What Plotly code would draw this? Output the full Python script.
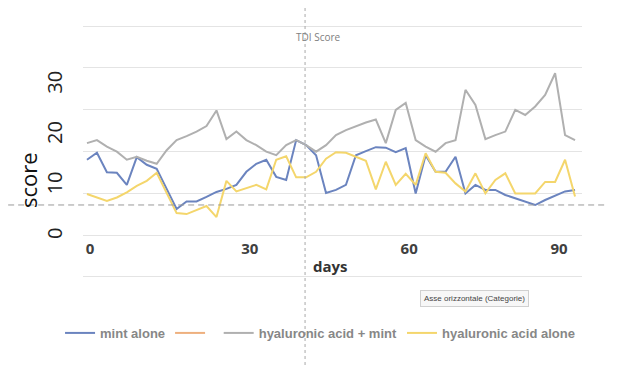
import plotly.graph_objects as go

# measurement days (every 2 days)
days = [2 * i for i in range(50)]

mint_alone = [15.2, 16.6, 12.7, 12.6, 10.2, 15.7, 14.2, 13.4, 9.4, 5.4,
              6.9, 6.9, 7.8, 8.8, 9.4, 10.2, 12.8, 14.4, 15.2, 11.8,
              11.2, 19.1, 18.1, 16.1, 8.6, 9.2, 10.2, 16.1, 16.9, 17.7,
              17.6, 16.7, 17.5, 8.5, 16.1, 12.8, 12.8, 15.8, 8.5, 10.2,
              9.2, 9.2, 8.2, 7.5, 6.9, 6.2, 7.2, 8.1, 8.9, 9.2]

ha_plus_mint = [18.5, 19.1, 17.8, 16.8, 15.2, 15.8, 15.0, 14.4, 17.1, 19.1,
                19.9, 20.8, 21.9, 25.0, 19.3, 20.8, 19.1, 18.1, 16.8, 16.1,
                18.1, 19.1, 18.1, 16.8, 18.1, 20.1, 21.1, 21.9, 22.6, 23.2,
                18.5, 25.1, 26.5, 19.1, 17.8, 16.8, 18.5, 19.1, 29.1, 26.1,
                19.3, 20.1, 20.8, 25.1, 24.1, 25.8, 28.1, 32.4, 20.1, 19.1]

ha_alone = [8.4, 7.7, 7.0, 7.7, 8.7, 10.0, 11.0, 12.6, 8.5, 4.6,
            4.4, 5.2, 6.0, 3.8, 11.0, 8.9, 9.5, 10.2, 9.3, 15.2,
            15.9, 11.7, 11.7, 12.8, 15.4, 16.7, 16.6, 15.8, 15.0, 9.3,
            14.8, 10.2, 12.4, 10.2, 16.5, 12.8, 12.6, 10.5, 8.9, 12.5,
            8.5, 11.2, 12.5, 8.5, 8.5, 8.5, 10.8, 10.8, 15.2, 7.9]

unnamed_series = [None]  # orange legend entry without visible data

x_tick_pos = [0.6, 32.7, 64.7, 94.8]
x_tick_text = ["0", "30", "60", "90"]
y_tick_vals = [0, 10, 20, 30]
y_tick_text = ["0", "10", "20", "30"]

fig = go.Figure()
fig.add_trace(go.Scatter(x=days, y=mint_alone, mode="lines", name="mint alone",
                         line=dict(color="#6b84bf", width=2)))
fig.add_trace(go.Scatter(x=days[:len(unnamed_series)], y=unnamed_series, mode="lines",
                         name=" ", line=dict(color="#eeb07e", width=2)))
fig.add_trace(go.Scatter(x=days, y=ha_plus_mint, mode="lines", name="hyaluronic acid + mint",
                         line=dict(color="#b0b0b0", width=2)))
fig.add_trace(go.Scatter(x=days, y=ha_alone, mode="lines", name="hyaluronic acid alone",
                         line=dict(color="#f4d66c", width=2)))

fig.update_layout(
    width=616, height=357, autosize=False,
    margin=dict(l=75, r=42, t=12, b=80, autoexpand=False),
    paper_bgcolor="white", plot_bgcolor="white",
    showlegend=True,
    legend=dict(orientation="h", x=-0.046, xanchor="left", y=-0.181, yanchor="middle",
                font=dict(family="Liberation Sans", size=13, color="#878787", weight="bold"),
                itemwidth=30, tracegroupgap=0, bgcolor="rgba(0,0,0,0)"),
    xaxis=dict(range=[-0.8, 99.4], showgrid=False, zeroline=False, showline=False,
               tickmode="array", tickvals=x_tick_pos, ticktext=x_tick_text, ticks="",
               anchor="free", position=0.177,
               tickfont=dict(family="Open Sans", size=15, color="#404040", weight="bold")),
    yaxis=dict(range=[-9.70, 42.98], showgrid=False, zeroline=False, showline=False,
               tickmode="array", tickvals=y_tick_vals, ticktext=y_tick_text, ticks="",
               tickangle=-90, ticklabelstandoff=16,
               tickfont=dict(family="Open Sans", size=20, color="#222222"),
               minor=dict(tickmode="linear", tick0=0.24, dtick=8.3, showgrid=True,
                          gridcolor="#e4e4e4", gridwidth=1, ticks="")),
    shapes=[
        dict(type="line", xref="paper", yref="paper", x0=-0.150, x1=1.050, y0=0.302, y1=0.302,
             line=dict(color="#9a9a9a", width=1, dash="6px,4px")),
        dict(type="line", xref="paper", yref="paper", x0=0.445, x1=0.445, y0=-0.302, y1=1.075,
             line=dict(color="#a8a8a8", width=1, dash="3px,3px")),
    ],
    annotations=[
        dict(text="score", xref="paper", yref="paper", x=(28 - 83) / 499, y=(285 - 180) / 265,
             xanchor="center", yanchor="middle", showarrow=False, textangle=-90,
             font=dict(family="Open Sans", size=22, color="#111111")),
        dict(text="days", xref="paper", yref="paper", x=(330 - 83) / 499, y=(285 - 266) / 265,
             xanchor="center", yanchor="middle", showarrow=False,
             font=dict(family="Open Sans", size=15, color="#333333", weight="bold")),
        dict(text="TDI Score", xref="paper", yref="paper", x=(318 - 83) / 499, y=(285 - 37) / 265,
             xanchor="center", yanchor="middle", showarrow=False,
             font=dict(family="Open Sans", size=10, color="#808080")),
        dict(text="Asse orizzontale (Categorie)", xref="paper", yref="paper",
             x=(474 - 83) / 499, y=(285 - 298) / 265, xanchor="center", yanchor="middle",
             showarrow=False,
             font=dict(family="Liberation Sans", size=8, color="#444444"),
             bgcolor="#f7f7f7", bordercolor="#d0d0d0", borderwidth=1, borderpad=3),
    ],
)

fig.write_html("out.html")
